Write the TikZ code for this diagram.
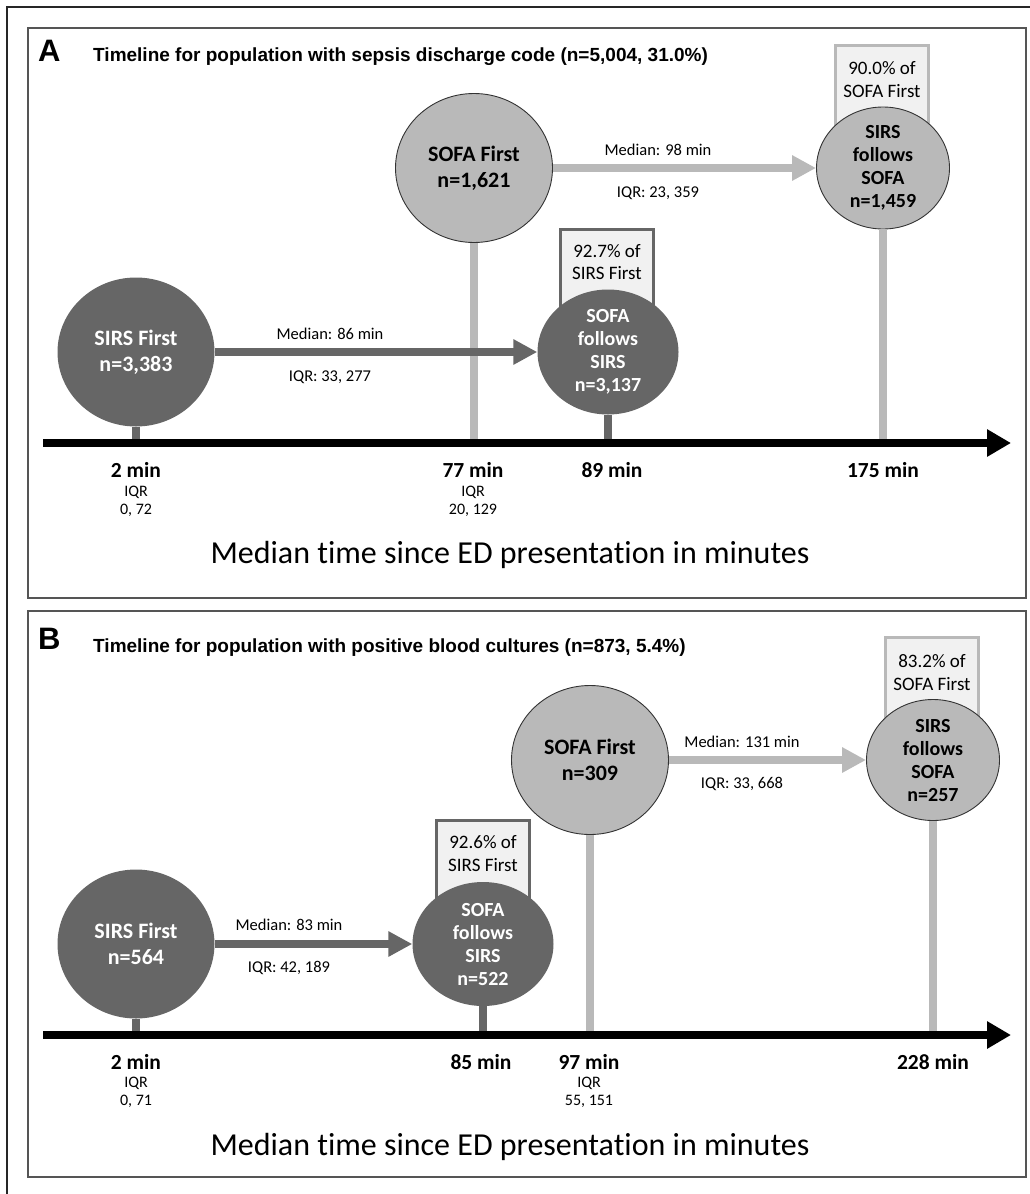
\documentclass[tikz,border=0pt]{standalone}
\usepackage{fontspec}
\setmainfont{Carlito}[Ligatures=NoCommon]
\newfontfamily\arialfont{Liberation Sans}
\usetikzlibrary{shapes.geometric, arrows.meta, positioning}
\definecolor{sepsisdark}{RGB}{102,102,102}
\definecolor{sepsislight}{RGB}{185,185,185}
\definecolor{sepsisbox}{RGB}{241,241,241}
\definecolor{sepsisframe}{RGB}{85,85,85}
\newcommand{\setfs}[2]{\fontsize{#1}{#2}\selectfont}

\begin{document}
\begin{tikzpicture}[
    x=1pt, y=-1pt,
    darkcirc/.style={
        ellipse,
        fill=sepsisdark,
        text=white,
        inner sep=-12pt,
        align=center,
        font=\bfseries\setfs{20}{23}
    },
    lightcirc/.style={
        ellipse,
        fill=sepsislight,
        draw=black!80,
        line width=0.9pt,
        inner sep=-12pt,
        align=center,
        font=\bfseries\setfs{20}{23}
    },
    bigcirc/.style={
        minimum width=157pt,
        minimum height=149pt,
        font=\bfseries\setfs{22}{26}
    },
    pctbox/.style={
        rectangle,
        fill=sepsisbox,
        line width=3pt,
        minimum width=93pt,
        anchor=north,
        inner sep=0pt
    },
    pctdark/.style={pctbox, draw=sepsisdark},
    pctlight/.style={pctbox, draw=sepsislight},
    pcttext/.style={anchor=base, inner sep=0pt, font=\setfs{19}{22}},
    medtext/.style={anchor=base, inner sep=0pt, font=\setfs{16.5}{19}},
    timetext/.style={anchor=base, inner sep=0pt, font=\bfseries\setfs{21.5}{25}},
    iqrtext/.style={anchor=base, inner sep=0pt, font=\setfs{16}{18}},
    captext/.style={anchor=base, inner sep=0pt, font=\setfs{32}{38}},
    paneltag/.style={anchor=base west, inner sep=0pt, font=\arialfont\bfseries\setfs{31}{36}},
    paneltitle/.style={anchor=base west, inner sep=0pt, font=\arialfont\bfseries\setfs{19}{22}},
    darkarrow/.style={-{Triangle[length=24pt,width=24pt]}, line width=8pt, sepsisdark},
    lightarrow/.style={-{Triangle[length=24pt,width=24pt]}, line width=8pt, sepsislight},
    darkstem/.style={line width=8pt, sepsisdark},
    lightstem/.style={line width=8pt, sepsislight},
    timeaxis/.style={-{Triangle[length=24pt,width=26pt]}, line width=8pt, black},
    panel/.style={draw=sepsisframe, line width=1.8pt}
]
\useasboundingbox (0,0) rectangle (1030,1194);

% Outer frame
\draw[line width=2pt, black!85] (1030,7) -- (7,7) -- (7,1194);

% ---------------- Panel A ----------------
\draw[panel] (28,28) rectangle (1026,598);
\node[paneltag] (tagA) at (38,61) {A};
\node[paneltitle] (titleA) at (93,61) {Timeline for population with sepsis discharge code (n=5,004, 31.0\%)};

% Percentage boxes
\node[pctdark, minimum height=100pt] (boxA1) at (607,228) {};
\node[pcttext] (boxA1a) at (607,257) {92.7\% of};
\node[pcttext] (boxA1b) at (607,279) {SIRS First};
\node[pctlight, minimum height=120pt] (boxA2) at (882,44) {};
\node[pcttext] (boxA2a) at (882,74) {90.0\% of};
\node[pcttext] (boxA2b) at (882,97) {SOFA First};

% Circles
\node[darkcirc, bigcirc] (sirsA) at (136,352) {SIRS First\\n=3,383};
\node[lightcirc, bigcirc] (sofaA) at (474,168) {SOFA First\\n=1,621};
\node[darkcirc, minimum width=141pt, minimum height=125pt] (sofafolA) at (608,352) {SOFA\\follows\\SIRS\\n=3,137};
\node[lightcirc, minimum width=133pt, minimum height=122pt] (sirsfolA) at (883,168) {SIRS\\follows\\SOFA\\n=1,459};

% Axis
\coordinate (axAstart) at (43,443);
\coordinate (axAend) at (1011,443);

% Stems
\draw[darkstem] (sirsA.south) -- (sirsA.south |- axAstart);
\draw[lightstem] (sofaA.south) -- (sofaA.south |- axAstart);
\draw[darkstem] (sofafolA.south) -- (sofafolA.south |- axAstart);
\draw[lightstem] (sirsfolA.south) -- (sirsfolA.south |- axAstart);
\draw[timeaxis] (axAstart) -- (axAend);

% Arrows
\draw[darkarrow] (sirsA) -- (sofafolA);
\draw[lightarrow] (sofaA) -- (sirsfolA);
\node[medtext] (medA1) at (330,339) {Median: 86 min};
\node[medtext] (iqrA1) at (330,381) {IQR: 33, 277};
\node[medtext] (medA2) at (658,155) {Median: 98 min};
\node[medtext] (iqrA2) at (658,197) {IQR: 23, 359};

% Times
\node[timetext] (tA1) at (136,477) {2 min};
\node[iqrtext] (qA1) at (136,496) {IQR};
\node[iqrtext] (vA1) at (136,514) {0, 72};
\node[timetext] (tA2) at (473,477) {77 min};
\node[iqrtext] (qA2) at (473,496) {IQR};
\node[iqrtext] (vA2) at (473,514) {20, 129};
\node[timetext] (tA3) at (612,477) {89 min};
\node[timetext] (tA4) at (883,477) {175 min};
\node[captext] (capA) at (510,563) {Median time since ED presentation in minutes};

% ---------------- Panel B ----------------
\draw[panel] (28,611) rectangle (1026,1177);
\node[paneltag] (tagB) at (38,649) {B};
\node[paneltitle] (titleB) at (93,652) {Timeline for population with positive blood cultures (n=873, 5.4\%)};

% Percentage boxes
\node[pctdark, minimum height=100pt] (boxB1) at (483,819) {};
\node[pcttext] (boxB1a) at (483,848) {92.6\% of};
\node[pcttext] (boxB1b) at (483,871) {SIRS First};
\node[pctlight, minimum height=120pt] (boxB2) at (932,636) {};
\node[pcttext] (boxB2a) at (932,667) {83.2\% of};
\node[pcttext] (boxB2b) at (932,690) {SOFA First};

% Circles
\node[darkcirc, bigcirc] (sirsB) at (136,944) {SIRS First\\n=564};
\node[darkcirc, minimum width=141pt, minimum height=124pt] (sofafolB) at (483,944) {SOFA\\follows\\SIRS\\n=522};
\node[lightcirc, bigcirc] (sofaB) at (590,760) {SOFA First\\n=309};
\node[lightcirc, minimum width=133pt, minimum height=121pt] (sirsfolB) at (933,760) {SIRS\\follows\\SOFA\\n=257};

% Axis
\coordinate (axBstart) at (43,1035);
\coordinate (axBend) at (1011,1035);

% Stems
\draw[darkstem] (sirsB.south) -- (sirsB.south |- axBstart);
\draw[darkstem] (sofafolB.south) -- (sofafolB.south |- axBstart);
\draw[lightstem] (sofaB.south) -- (sofaB.south |- axBstart);
\draw[lightstem] (sirsfolB.south) -- (sirsfolB.south |- axBstart);
\draw[timeaxis] (axBstart) -- (axBend);

% Arrows
\draw[darkarrow] (sirsB) -- (sofafolB);
\draw[lightarrow] (sofaB) -- (sirsfolB);
\node[medtext] (medB1) at (289,930) {Median: 83 min};
\node[medtext] (iqrB1) at (289,972) {IQR: 42, 189};
\node[medtext] (medB2) at (742,747) {Median: 131 min};
\node[medtext] (iqrB2) at (742,788) {IQR: 33, 668};

% Times
\node[timetext] (tB1) at (136,1069) {2 min};
\node[iqrtext] (qB1) at (136,1087) {IQR};
\node[iqrtext] (vB1) at (136,1105) {0, 71};
\node[timetext] (tB2) at (481,1069) {85 min};
\node[timetext] (tB3) at (589,1069) {97 min};
\node[iqrtext] (qB3) at (589,1087) {IQR};
\node[iqrtext] (vB3) at (589,1105) {55, 151};
\node[timetext] (tB4) at (933,1069) {228 min};
\node[captext] (capB) at (510,1155) {Median time since ED presentation in minutes};

\end{tikzpicture}
\end{document}
